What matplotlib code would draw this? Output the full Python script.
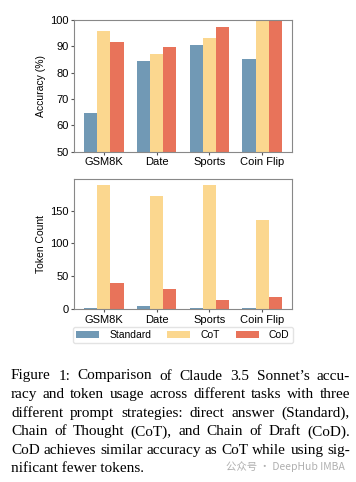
import matplotlib.pyplot as plt
import numpy as np

tasks = ["GSM8K", "Date", "Sports", "Coin Flip"]
methods = ["Standard", "CoT", "CoD"]
accuracy = {
    "Standard": [64.6, 84.3, 90.6, 85.2],
    "CoT": [95.8, 87.0, 93.2, 100.0],
    "CoD": [91.4, 89.7, 97.3, 100.0],
}
tokens = {
    "Standard": [1, 5, 1, 1],
    "CoT": [189, 172, 189, 135],
    "CoD": [40, 31, 14, 19],
}
colors = {"Standard": "#7199b5", "CoT": "#fbd78f", "CoD": "#e8735a"}

caption_lines = [
    "Figure 1:  Comparison of Claude 3.5 Sonnet\u2019s accu-",
    "racy and token usage across different tasks with three",
    "different prompt strategies: direct answer (Standard),",
    "Chain of Thought (CoT), and Chain of Draft (CoD).",
    "CoD achieves similar accuracy as CoT while using sig-",
    "nificant fewer tokens.",
]

plt.rcParams["font.family"] = ["Liberation Sans", "DejaVu Sans"]
fig = plt.figure(figsize=(3.56, 4.82), dpi=100)
ax1 = fig.add_axes([0.208, 0.685, 0.612, 0.274])
ax2 = fig.add_axes([0.208, 0.359, 0.612, 0.270])

x = np.arange(len(tasks))
width = 0.25
for ax, data in ((ax1, accuracy), (ax2, tokens)):
    for i, m in enumerate(methods):
        ax.bar(x + (i - 1) * width, data[m], width, color=colors[m], label=m)
    ax.set_xticks(x)
    ax.set_xticklabels(tasks, fontsize=8)
    ax.tick_params(axis="y", labelsize=8, length=2, color="#555555", pad=2)
    ax.tick_params(axis="x", length=2, color="#555555", pad=2)
    for s in ax.spines.values():
        s.set_color("#888888")
        s.set_linewidth(0.8)

ax1.set_ylim(50, 100)
ax1.set_yticks([50, 60, 70, 80, 90, 100])
ax1.set_ylabel("Accuracy (%)", fontsize=7.5, labelpad=3)
ax2.set_yticks([0, 50, 100, 150])
ax2.set_ylabel("Token Count", fontsize=7.5, labelpad=3)

handles, labels = ax2.get_legend_handles_labels()
fig.legend(handles, labels, ncol=3, loc="center", bbox_to_anchor=(0.514, 0.305),
           fontsize=7.5, frameon=True, edgecolor="#dddddd", handlelength=2.2,
           columnspacing=1.5, handleheight=0.6, borderpad=0.3, handletextpad=1.0)

# justified caption
fig.canvas.draw()
renderer = fig.canvas.get_renderer()
left, right = 11, 350
y0, dy = 376, 18.6
fs = 11
for li, line in enumerate(caption_lines):
    ypix = 482 - (y0 + li * dy)
    words = line.split()
    if li == len(caption_lines) - 1:
        fig.text(left / 356, ypix / 482, line, fontsize=fs, family="Liberation Serif",
                 va="center", ha="left")
        continue
    texts = [fig.text(0, ypix / 482, w, fontsize=fs, family="Liberation Serif",
                      va="center", ha="left") for w in words]
    widths = [t.get_window_extent(renderer).width for t in texts]
    gap = (right - left - sum(widths)) / (len(words) - 1)
    pos = left
    for t, w in zip(texts, widths):
        t.set_x(pos / 356)
        pos += w + gap

fig.text(345 / 356, 15 / 482, "\u516c\u4f17\u53f7 \u00b7 DeepHub IMBA", fontsize=7.5,
         color="#b0b0b0", ha="right", va="center",
         family=["Noto Sans CJK SC", "DejaVu Sans"])

fig.savefig("out.png", dpi=100)
